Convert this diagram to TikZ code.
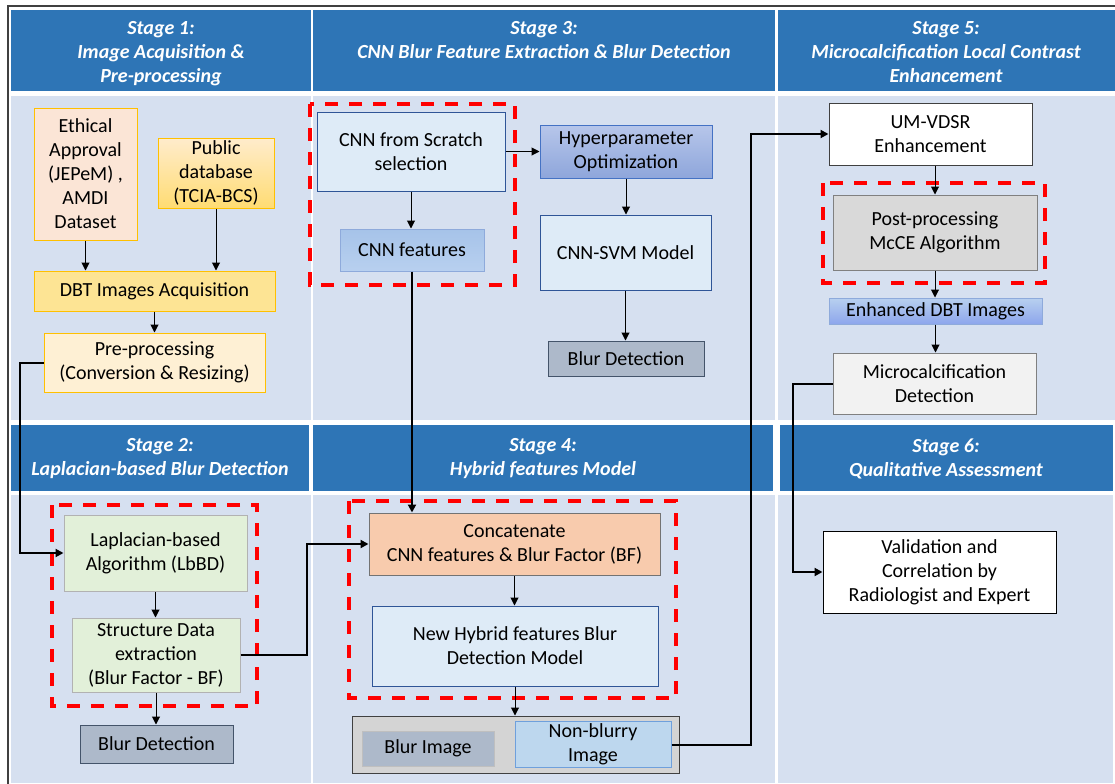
\documentclass[tikz,border=0pt]{standalone}
\usepackage{fontspec}
\setmainfont{Carlito}
\usetikzlibrary{arrows.meta,positioning}
\definecolor{hdrblue}{HTML}{2E75B6}
\definecolor{cellbg}{HTML}{D6E0F0}
\definecolor{paleblue}{HTML}{DEEBF7}
\definecolor{darkblue}{HTML}{2F5597}
\definecolor{slate}{HTML}{ADB9CA}
\definecolor{slateline}{HTML}{44546A}
\definecolor{gold}{HTML}{FFC000}
\definecolor{paleorange}{HTML}{FBE5D6}
\definecolor{peach}{HTML}{F8CBAD}
\definecolor{palegreen}{HTML}{E2F0D9}
\definecolor{skytop}{HTML}{A6C3E9}
\definecolor{skybot}{HTML}{B8D0EF}
\definecolor{skyline}{HTML}{8EAADB}
\definecolor{perilight}{HTML}{B7C6EA}
\definecolor{peridark}{HTML}{8EA6DB}
\definecolor{accentblue}{HTML}{4472C4}
\definecolor{iceblue}{HTML}{BDD7EE}
\definecolor{iceline}{HTML}{6FA0DC}

\begin{document}
\begin{tikzpicture}[
  x=0.75pt,y=-0.75pt,
  >={Triangle[length=6pt,width=6pt]},
  flow/.style={->,line width=0.75pt,draw=black},
  link/.style={->,line width=1.5pt,draw=black},
  header/.style={fill=hdrblue,draw=none},
  cell/.style={fill=cellbg,draw=none},
  headtext/.style={text=white,font=\fontsize{15}{18}\selectfont\bfseries\itshape,align=center},
  box/.style={draw=darkblue,line width=0.75pt,fill=paleblue,align=center,
    font=\fontsize{15}{18}\selectfont,inner sep=2pt},
  goldbox/.style={box,draw=gold},
  slatebox/.style={box,fill=slate,draw=slateline},
  bluegrad/.style={box,draw=skyline,top color=skytop,bottom color=skybot},
  redframe/.style={draw=red,line width=2.4pt,dash pattern=on 10pt off 8pt}
]
\useasboundingbox (0,0) rectangle (1115,783);
% table background
\draw[line width=1.2pt,draw=black!75] (8,790) -- (8,6) -- (1125,6);
\fill[header] (11,10) rectangle (311,91);
\fill[header] (313,10) rectangle (775,91);
\fill[header] (778,10) rectangle (1115,91);
\fill[cell] (11,96) rectangle (311,420);
\fill[cell] (313,96) rectangle (775,420);
\fill[cell] (778,96) rectangle (1115,420);
\fill[header] (11,425) rectangle (309,491);
\fill[header] (313,425) rectangle (773,491);
\fill[header] (780,425) rectangle (1113,491);
\fill[cell] (11,495) rectangle (311,783);
\fill[cell] (313,495) rectangle (775,783);
\fill[cell] (778,495) rectangle (1113,783);

% stage headings
\node[headtext,anchor=north] (h1) at (161,17) {Stage 1:\\Image Acquisition \&\\Pre-processing};
\node[headtext,anchor=north] (h3) at (544,17) {Stage 3:\\CNN Blur Feature Extraction \& Blur Detection};
\node[headtext,anchor=north] (h5) at (946,17) {Stage 5:\\Microcalcification Local Contrast\\Enhancement};
\node[headtext] (h2) at (160,459) {Stage 2:\\Laplacian-based Blur Detection};
\node[headtext] (h4) at (543,459) {Stage 4:\\Hybrid features Model};
\node[headtext] (h6) at (946,459) {Stage 6:\\Qualitative Assessment};

% highlighted groups
\draw[redframe] (310,104) rectangle (515,285);
\draw[redframe] (823,183) rectangle (1045,283);
\draw[redframe] (52,505) rectangle (257,706);
\draw[redframe] (349,501) rectangle (676,698);

% stage 1
\node[goldbox,fill=paleorange,minimum width=77.25pt,minimum height=99pt] (ethic) at (85.5,174) {Ethical\\Approval\\(JEPeM) ,\\AMDI\\Dataset};
\node[goldbox,top color=yellow!25!orange!20!white,bottom color=yellow!50!orange!55!white,minimum width=87pt,minimum height=51pt] (pubdb) at (216,173) {Public\\database\\(TCIA-BCS)};
\node[goldbox,fill=yellow!55!orange!40!white,minimum width=180.75pt,minimum height=30pt] (dbtacq) at (154.5,291) {DBT Images Acquisition};
\node[goldbox,fill=yellow!30!orange!15!white,minimum width=165.75pt,minimum height=44.25pt] (preproc) at (154.5,362.5) {Pre-processing\\(Conversion \& Resizing)};

% stage 3
\node[box,minimum width=141pt,minimum height=59.25pt] (scratch) at (411,151.5) {CNN from Scratch\\selection};
\node[bluegrad,minimum width=108pt,minimum height=31.5pt] (cnnfeat) at (412,250) {CNN features};
\node[box,draw=accentblue,top color=perilight,bottom color=peridark,minimum width=129pt,minimum height=39.75pt] (hyper) at (626,151.5) {Hyperparameter\\Optimization};
\node[box,minimum width=128.25pt,minimum height=56.25pt] (cnnsvm) at (625.5,252.5) {CNN-SVM Model};
\node[slatebox,minimum width=117pt,minimum height=26.25pt] (blurdetA) at (626,358.5) {Blur Detection};

% stage 5
\node[box,fill=white,draw=black!75,minimum width=152.25pt,minimum height=46.5pt] (umvdsr) at (930.5,134) {UM-VDSR\\Enhancement};
\node[box,fill=black!15,draw=black!50,minimum width=153pt,minimum height=56.25pt] (postproc) at (935,232.5) {Post-processing\\McCE Algorithm};
\node[bluegrad,top color=skybot,bottom color=skytop!85!blue,minimum width=159.75pt,minimum height=19.5pt] (enhdbt) at (935.5,311) {Enhanced DBT Images};
\node[box,fill=black!5,draw=black!50,minimum width=152.25pt,minimum height=45.75pt] (microcalc) at (934.5,383.5) {Microcalcification\\Detection};

% stage 2
\node[box,fill=palegreen,draw=black!30,minimum width=137.25pt,minimum height=57pt] (lap) at (155.5,553) {Laplacian-based\\Algorithm (LbBD)};
\node[box,fill=palegreen,draw=black!30,minimum width=126pt,minimum height=55.5pt] (structdata) at (156,655) {Structure Data\\extraction\\(Blur Factor - BF)};
\node[slatebox,minimum width=114.75pt,minimum height=28.5pt] (blurdetB) at (156.5,744) {Blur Detection};

% stage 4
\node[box,fill=peach,draw=black!55,minimum width=218.25pt,minimum height=46.5pt] (concat) at (514.5,544) {Concatenate\\CNN features \& Blur Factor (BF)};
\node[box,minimum width=214.5pt,minimum height=60pt] (hybrid) at (515,646) {New Hybrid features Blur\\Detection Model};
\node[box,fill=black!17,draw=black!75,minimum width=245.25pt,minimum height=42.75pt] (outbox) at (515.5,744.5) {};
\node[slatebox,draw=black!25,minimum width=99pt,minimum height=26.25pt] (blurimg) at (428,748.5) {Blur Image};
\node[box,fill=iceblue,draw=iceline,minimum width=117pt,minimum height=32.25pt] (nonblur) at (593,744.5) {Non-blurry\\Image};

% stage 6
\node[box,fill=white,draw=black,minimum width=174.75pt,minimum height=61.5pt] (valid) at (939.5,572) {Validation and\\Correlation by\\Radiologist and Expert};

% connectors
\draw[flow] (ethic.south) -- (ethic.south |- dbtacq.north);
\draw[flow] (pubdb.south) -- (pubdb.south |- dbtacq.north);
\draw[flow] (dbtacq.south) -- (preproc.north);
\draw[link] (preproc.west) -- ++(-24,0) |- (lap.west);
\draw[flow] (scratch.east) -- (hyper.west);
\draw[flow] (scratch.south) -- (scratch.south |- cnnfeat.north);
\draw[flow] (hyper.south) -- (hyper.south |- cnnsvm.north);
\draw[flow] (cnnsvm.south) -- (cnnsvm.south |- blurdetA.north);
\draw[link] (cnnfeat.south) -- (cnnfeat.south |- concat.north);
\draw[flow] (postproc.north |- umvdsr.south) -- (postproc.north);
\draw[flow] (postproc.south) -- (postproc.south |- enhdbt.north);
\draw[flow] (enhdbt.south) -- (enhdbt.south |- microcalc.north);
\draw[link] (microcalc.west) -- ++(-40,0) |- (valid.west);
\draw[flow] (lap.south) -- (lap.south |- structdata.north);
\draw[flow] (structdata.south) -- (structdata.south |- blurdetB.north);
\draw[link] (structdata.east) -- ++(66,0) |- (concat.west);
\draw[flow] (concat.south) -- (concat.south |- hybrid.north);
\draw[flow] (hybrid.south) -- (hybrid.south |- outbox.north);
\draw[link] (nonblur.east) -- ++(79,0) |- (umvdsr.west);
\end{tikzpicture}
\end{document}
